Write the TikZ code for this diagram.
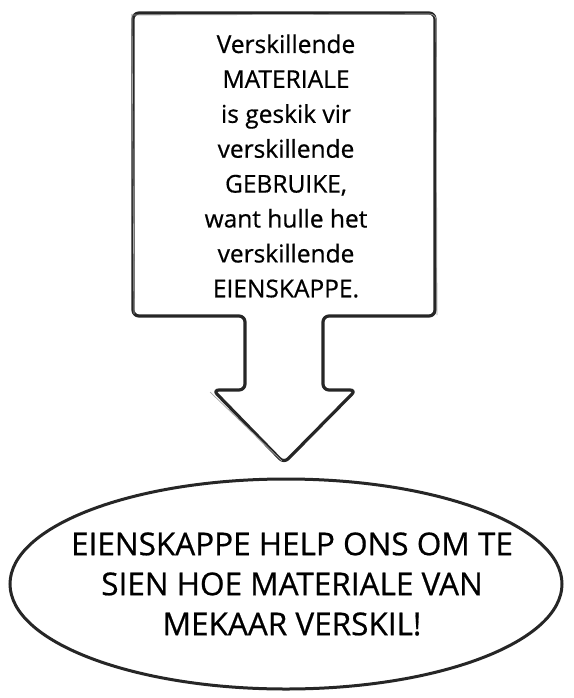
\documentclass[tikz,border=0pt]{standalone}
\usepackage{fontspec}
\setmainfont{Open Sans}
\newfontfamily\handfont{Open Sans}[FakeBold=0.6]
\usetikzlibrary{shapes,arrows,positioning}

\begin{document}
\begin{tikzpicture}[
    x=1pt, y=-1pt,
    sketch/.style={draw=black!85, line width=3.2pt, rounded corners=6pt, line join=round},
    faint/.style={draw=black!35, line width=0.7pt, rounded corners=6pt},
    boxtext/.style={align=center, inner sep=0pt, font=\handfont\fontsize{24.5}{34.9}\selectfont},
    bubble/.style={ellipse, draw=black!85, line width=3pt, minimum width=552pt, minimum height=210pt, inner sep=0pt},
    bubbletext/.style={align=center, inner sep=0pt, font=\handfont\fontsize{31.5}{40}\selectfont}
]
    \useasboundingbox (0,0) rectangle (573,698);

    % callout box with the arrow underneath
    \coordinate (tl) at (133,13);
    \coordinate (tr) at (435,13);
    \coordinate (br) at (435,316);
    \coordinate (bl) at (133,316);
    \coordinate (tip) at (284,463);
    \draw[sketch] (tl) -- (tr) -- (br) -- (323,316) -- (323,390) -- (356,390) -- (tip)
        -- (213,390) -- (245,390) -- (245,316) -- (bl) -- cycle;
    \draw[faint] ([shift={(-2,2)}]tl) -- ([shift={(1,1)}]tr) -- ([shift={(2,-1)}]br);
    \draw[faint] ([shift={(1,-2)}]bl) -- ([shift={(-1,1)}]tl);
    \draw[faint] (210,392) -- ([shift={(-2,-2)}]tip);

    \node[boxtext] (uses) at (286,166) {Verskillende\\MATERIALE\\is geskik vir\\verskillende\\GEBRUIKE,\\want hulle het\\verskillende\\EIENSKAPPE.};

    % summary bubble
    \node[bubble] (summary) at (286,584) {};
    \node[bubbletext] (claim) at ([xshift=6pt]summary.center) {EIENSKAPPE HELP ONS OM TE\\SIEN HOE MATERIALE VAN\\MEKAAR VERSKIL!};
\end{tikzpicture}
\end{document}
